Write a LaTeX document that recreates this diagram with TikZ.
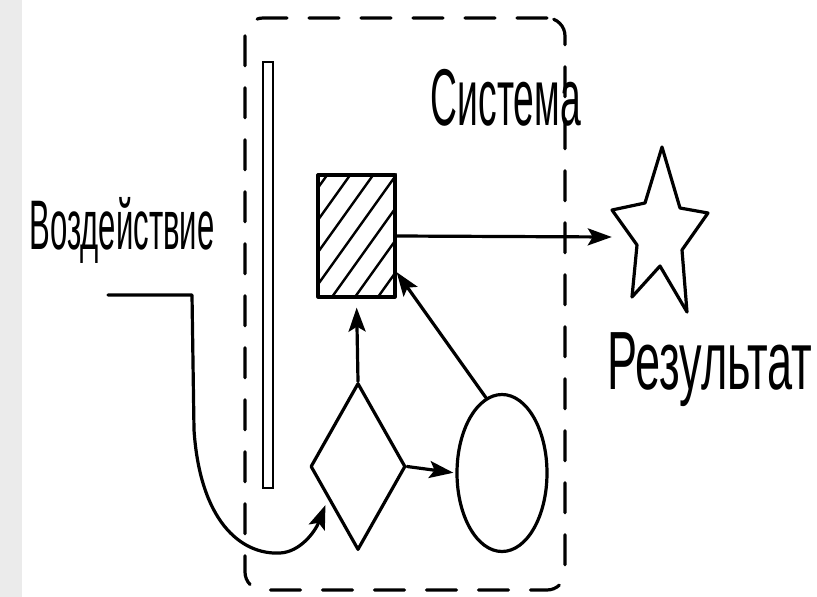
\documentclass[tikz,border=0pt]{standalone}
\usepackage{fontspec}
\setmainfont{Liberation Sans}
\usetikzlibrary{shapes.geometric,arrows.meta}
\begin{document}
\begin{tikzpicture}[x=1pt,y=-1pt,
  ln/.style={line width=3.2pt, line join=round, line cap=round},
  arr/.style={ln, -{Stealth[length=24pt,width=17pt,inset=5pt]}},
  shp/.style={draw, ln, inner sep=0pt, fill=white},
  lbl/.style={inner sep=0pt, text=black}]
\useasboundingbox (0,0) rectangle (817,597);
\fill[white] (0,0) rectangle (817,597);
\fill[black!8] (0,0) rectangle (22,597);
% system boundary
\node[draw, ln, dash pattern=on 30pt off 22pt, rounded corners=18pt,
      minimum width=320pt, minimum height=572pt, inner sep=0pt] (sys) at (405,304) {};
% wall
\node[draw, line width=2.8pt, minimum width=10pt, minimum height=426pt, inner sep=0pt] (wall) at (268,275) {};
% hatched box
\node[shp, fill=none, minimum width=77pt, minimum height=122pt] (box) at (356.5,236) {};
\begin{scope}
  \clip (box.south west) rectangle (box.north east);
  \foreach \s in {240,263,...,400} \draw[line width=2.4pt] (\s,297) -- ++(100,-140);
\end{scope}
% diamond
\node[shp, diamond, aspect=1, minimum width=95pt, minimum height=167pt] (dia) at (358,466.5) {};
% ellipse
\node[shp, ellipse, minimum width=90pt, minimum height=157pt] (ell) at (502,473) {};
% star
\node[minimum width=96pt, minimum height=165pt, inner sep=0pt] (star) at (660,237) {};
\draw[ln] (662,147) -- (680,208) -- (708,213) -- (682,250) -- (687,312) -- (660,266)
  -- (632,297) -- (637,245) -- (612,210) -- (645,203) -- cycle;
% labels
\node[lbl] (voz) at (122,230) {\resizebox*{185pt}{66pt}{Воздействие}};
\node[lbl] (sysl) at (506,98) {\resizebox*{150pt}{57pt}{Система}};
\node[lbl] (res) at (710,370) {\resizebox*{205pt}{74pt}{Результат}};
% connectors
\coordinate (in) at (108,295);
\draw[arr] (in) -- (192,295) -- (194,430) .. controls (200,520) and (240,555) .. (280,553)
  .. controls (300,552) and (315,532) .. ([shift={(-8pt,4pt)}]dia.south west);
\draw[arr, shorten >=9pt] (dia.north) -- (box.south);
\draw[arr, shorten >=2pt] (dia.east) -- (ell.west);
\draw[arr] (ell.102) -- (box.-42);
\draw[arr] (box.east) -- (star.west);
\end{tikzpicture}
\end{document}
